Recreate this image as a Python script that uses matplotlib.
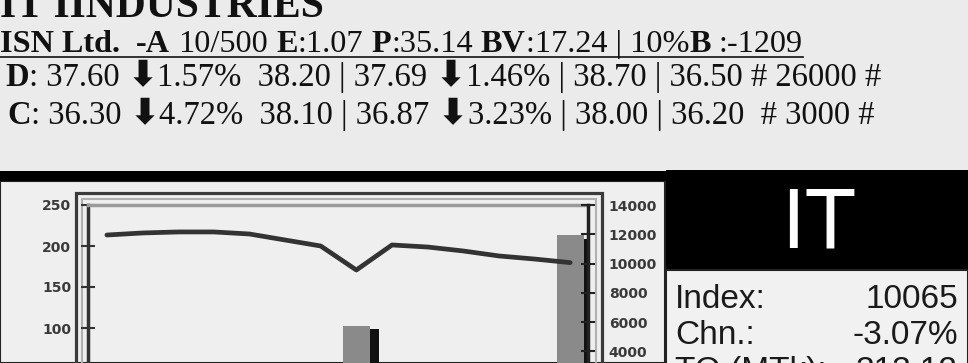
import numpy as np
import matplotlib
matplotlib.use("Agg")
import matplotlib.pyplot as plt
from matplotlib.patches import Rectangle
from matplotlib.lines import Line2D

# header data
title = "IT IINDUSTRIES"
company = "ISN Ltd."
face_value = "10/500"
eps = 1.07
pe = 35.14
book_value = 17.24
dividend = "10%"
bonus = "-1209"
# close, chg%, open | avg, chg%, high, low, volume
dse_row = [37.60, 1.57, 38.20, 37.69, 1.46, 38.70, 36.50, 26000]
cse_row = [36.30, 4.72, 38.10, 36.87, 3.23, 38.00, 36.20, 3000]

# side box
sector = "IT"
index_value = 10065
index_change = -3.07
turnover = 313.12

# chart data
days = np.arange(14)
index_line = [11950, 12090, 12160, 12160, 12020, 11610, 11200, 9560,
              11270, 11130, 10860, 10520, 10310, 10065]
volume = [0, 0, 0, 0, 0, 0, 0, 103, 0, 0, 0, 0, 0, 213]
left_ticks = [100, 150, 200, 250]
right_ticks = [4000, 6000, 8000, 10000, 12000, 14000]

W, H = 968, 363
fig = plt.figure(figsize=(W / 100, H / 100), dpi=100, facecolor="#ebebeb")
rend = fig.canvas.get_renderer()


def fx(x):
    return x / W


def fy(y):
    return 1 - y / H


SERIF = ["Liberation Serif", "DejaVu Sans"]
ARROW = "\u2b07"


def text_w(s, **kw):
    a = fig.text(0, 0, "|" + s + "|", **kw)
    b = fig.text(0, 0, "||", **kw)
    w = a.get_window_extent(rend).width - b.get_window_extent(rend).width
    a.remove()
    b.remove()
    return w


def runs(pieces, x, y, size):
    sp = text_w(" ", family=SERIF, fontsize=size)
    for s, style in pieces:
        kw = dict(family=SERIF, fontsize=size, color="#111111")
        if style == "b":
            kw["fontweight"] = "bold"
        elif style == "a":
            kw = dict(family=["DejaVu Sans"], fontsize=size * 1.1,
                      color="#111111", fontweight="bold")
        lead = len(s) - len(s.lstrip(" "))
        trail = len(s) - len(s.rstrip(" "))
        core = s.strip(" ")
        x += lead * sp
        if core:
            fig.text(fx(x), fy(y), core, ha="left", va="baseline", **kw)
            x += text_w(core, **kw)
        x += trail * sp
    return x


# header
fig.text(fx(0), fy(17), title, family=SERIF, fontweight="bold",
         fontsize=30, ha="left", va="baseline", color="#111111")

line2 = [(company, "b"), (" ", "r"), ("-A", "b"), (" " + face_value + " ", "r"),
         ("E", "b"), (":%.2f " % eps, "r"), ("P", "b"), (":%.2f " % pe, "r"),
         ("BV", "b"), (":%.2f | %s" % (book_value, dividend), "r"),
         ("B", "b"), (" :" + bonus, "r")]
end2 = runs(line2, 0, 52, 23.2)
fig.add_artist(Line2D([0, fx(end2)], [fy(57), fy(57)], color="#222222", lw=1.3))


def market_row(tag, v, sep):
    return [(tag, "b"), (": %.2f " % v[0], "r"), (ARROW, "a"),
            ("%.2f%%  %.2f | %.2f " % (v[1], v[2], v[3]), "r"), (ARROW, "a"),
            ("%.2f%% | %.2f | %.2f%s# %d #" % (v[4], v[5], v[6], sep, v[7]), "r")]


runs(market_row("D", dse_row, " "), 5, 86, 23.5)
runs(market_row("C", cse_row, "  "), 7, 124, 23.5)

# frames and panels (kept below the axes)
fig.add_artist(Rectangle((fx(0), fy(363)), fx(665), (363 - 181) / H,
                         facecolor="#efefef", edgecolor="#222222", lw=1.5,
                         zorder=-3))
fig.add_artist(Rectangle((fx(0), fy(181)), 1, 10 / H, facecolor="black",
                         lw=0, zorder=-2))
fig.add_artist(Rectangle((fx(666), fy(270)), fx(302), 100 / H,
                         facecolor="black", lw=0, zorder=-2))
fig.add_artist(Rectangle((fx(666), fy(370)), fx(302), 100 / H,
                         facecolor="#f1f1f1", edgecolor="#222222", lw=1.5,
                         zorder=-2))
fig.add_artist(Rectangle((fx(76), fy(380)), fx(526), 187 / H,
                         facecolor="none", edgecolor="#3a3a3a", lw=2.3,
                         zorder=-1))
fig.add_artist(Rectangle((fx(82), fy(380)), fx(514), 181 / H,
                         facecolor="none", edgecolor="#b0b0b0", lw=1.5,
                         zorder=-1))

# chart
ax = fig.add_axes([fx(88), fy(410), 500 / W, 205 / H])
ax.set_zorder(2)
ax.patch.set_alpha(0)
ax.bar(days, volume, width=0.75, color="#8a8a8a", zorder=2)
side = [max(v - 4, 0) for v in volume]
ax.bar(days + 0.38, side, width=0.25, align="edge", color="#111111", zorder=2)
ax.set_xlim(-0.53, 13.5)
ax.set_ylim(0, 250)
ax.set_yticks(left_ticks)
ax.set_xticks([])

ax2 = ax.twinx()
ax2.set_zorder(3)
ax2.patch.set_alpha(0)
ax2.plot(days, index_line, color="#333333", lw=3.4, solid_joinstyle="round",
         solid_capstyle="round", zorder=3)
ax2.set_ylim(0, 14000)
ax2.set_yticks(right_ticks)
ax2.set_xlim(-0.53, 13.5)

for a in (ax, ax2):
    for s in a.spines.values():
        s.set_visible(False)
ax.spines["left"].set_visible(True)
ax.spines["left"].set_color("#333333")
ax.spines["left"].set_linewidth(2.5)
ax.spines["top"].set_visible(True)
ax.spines["top"].set_color("#9a9a9a")
ax.spines["top"].set_linewidth(2.5)
ax2.spines["right"].set_visible(True)
ax2.spines["right"].set_color("#222222")
ax2.spines["right"].set_linewidth(2.5)

ax.tick_params(axis="y", direction="inout", length=10, width=1.5,
               color="#333333", labelsize=10, labelcolor="#3a3a3a", pad=7)
ax2.tick_params(axis="y", direction="inout", length=10, width=1.5,
                color="#222222", labelsize=10, labelcolor="#3a3a3a", pad=10)
for lab in ax.get_yticklabels() + ax2.get_yticklabels():
    lab.set_fontweight("bold")

# side box text
fig.text(fx(819), fy(248), sector, color="white", fontsize=61,
         family="Liberation Sans", ha="center", va="baseline")
stats = [("Index:", "%d" % index_value), ("Chn.:", "%.2f%%" % index_change),
         ("TO (MTk):", "%.2f" % turnover)]
for i, (lab, val) in enumerate(stats):
    yb = 308 + 36 * i
    fig.text(fx(675), fy(yb), lab, fontsize=24, family="Liberation Sans",
             ha="left", va="baseline", color="#1a1a1a")
    fig.text(fx(958), fy(yb), val, fontsize=24, family="Liberation Sans",
             ha="right", va="baseline", color="#1a1a1a")

fig.savefig("out.png", dpi=100, facecolor=fig.get_facecolor())
